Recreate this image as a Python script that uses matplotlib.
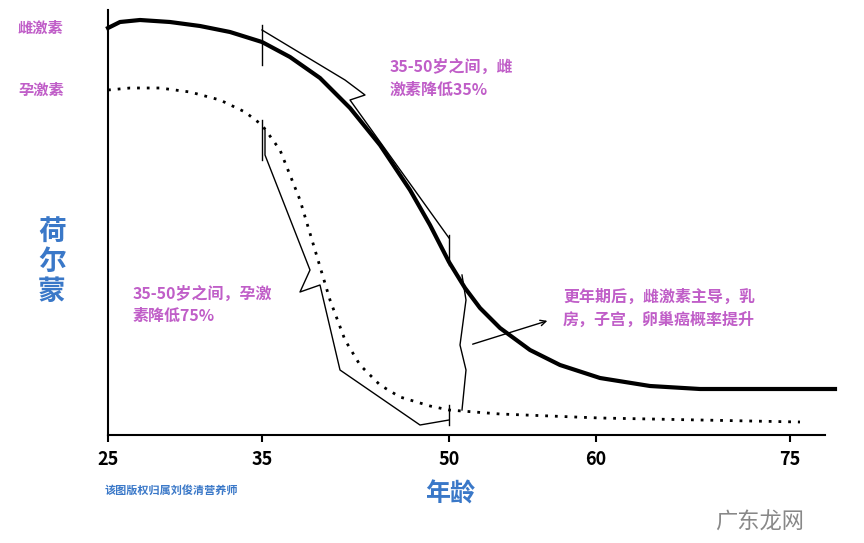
import matplotlib
matplotlib.use("Agg")
import matplotlib.pyplot as plt

plt.rcParams['font.family'] = ['Noto Sans CJK SC', 'DejaVu Sans']

ages = [25, 35, 50, 60, 75]
age_pos = [108, 262, 449, 596, 790]
estrogen_x = [108, 120, 140, 170, 200, 230, 262, 290, 320, 350, 380, 410, 430, 449, 465, 480, 500, 530, 560, 600, 650, 700, 835]
estrogen_y = [28, 22, 20, 22, 26, 32, 42, 57, 78, 108, 145, 190, 225, 262, 288, 308, 328, 350, 365, 378, 386, 389, 389]
prog_x = [108, 130, 160, 190, 220, 245, 262, 280, 300, 315, 330, 345, 360, 380, 400, 430, 449, 500, 600, 800]
prog_y = [90, 88, 88, 92, 100, 112, 125, 150, 200, 250, 300, 340, 365, 385, 397, 406, 410, 414, 418, 422]

W, H = 864, 543
fig = plt.figure(figsize=(8.64, 5.43), dpi=100)
ax = fig.add_axes([108/W, 1-435/H, (825-108)/W, (435-10)/H])
ax.set_xlim(108, 825)
ax.set_ylim(435, 10)
ax.plot(estrogen_x, estrogen_y, color='black', lw=3, clip_on=False, solid_joinstyle='round')
ax.plot(prog_x, prog_y, color='black', lw=2, ls=(0, (1, 2.5)), clip_on=False)

k = dict(color='black', lw=1, clip_on=False)
ax.plot([262, 262], [25, 65], **k)
ax.plot([262, 345, 365, 350, 449], [30, 80, 95, 100, 238], **k)
ax.plot([449, 449], [235, 265], **k)
ax.plot([262, 262], [120, 160], **k)
ax.plot([265, 265, 310, 300, 320, 340, 420, 449], [130, 155, 270, 292, 285, 370, 425, 420], **k)
ax.plot([449, 449], [405, 425], **k)
ax.plot([462, 466, 460, 466, 462], [275, 300, 345, 370, 410], **k)
ax.annotate('', xy=(550, 320), xytext=(470, 345),
            arrowprops=dict(arrowstyle='->', color='black', lw=1), annotation_clip=False)

for s in ['top', 'right']:
    ax.spines[s].set_visible(False)
for s in ['left', 'bottom']:
    ax.spines[s].set_linewidth(1.5)
ax.set_yticks([])
ax.set_xticks(age_pos)
ax.set_xticklabels([str(a) for a in ages], fontsize=13, fontweight='bold')
ax.tick_params(axis='x', length=5, width=1.5, pad=6)

pink = '#c05ec8'
blue = '#3a78c8'
def ft(x, y, s, **kw):
    fig.text(x/W, 1-y/H, s, **kw)
ft(18, 28, '雌激素', color=pink, fontsize=11, fontweight='bold', va='center')
ft(18, 90, '孕激素', color=pink, fontsize=11, fontweight='bold', va='center')
ft(390, 78, '35-50岁之间，雌\n激素降低35%', color=pink, fontsize=11.5, fontweight='bold', va='center', linespacing=1.5)
ft(133, 305, '35-50岁之间，孕激\n素降低75%', color=pink, fontsize=11.5, fontweight='bold', va='center', linespacing=1.5)
ft(563, 308, '更年期后，雌激素主导，乳\n房，子宫，卵巢癌概率提升', color=pink, fontsize=11.5, fontweight='bold', va='center', linespacing=1.5)
ft(52, 262, '荷\n尔\n蒙', color=blue, fontsize=20, fontweight='bold', ha='center', va='center', linespacing=1.1)
ft(450, 495, '年龄', color=blue, fontsize=18, fontweight='bold', ha='center', va='center')
ft(105, 490, '该图版权归属刘俊清营养师', color=blue, fontsize=8, fontweight='bold', va='center')
ft(760, 522, '广东龙网', color='#888888', fontsize=16, ha='center', va='center')

fig.savefig('out.png', dpi=100)
